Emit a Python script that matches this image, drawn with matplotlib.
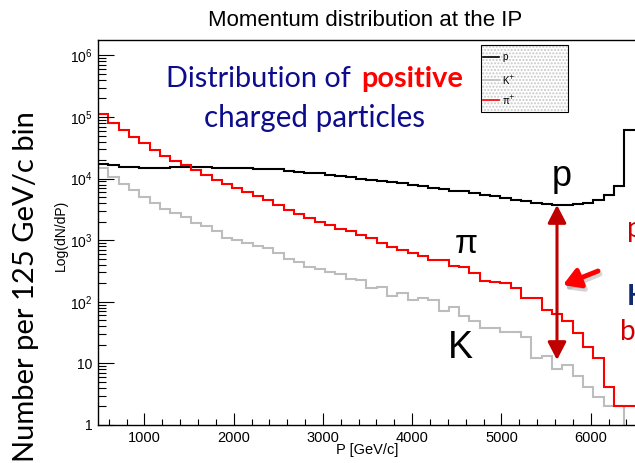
import numpy as np
import matplotlib
matplotlib.use('Agg')
import matplotlib.pyplot as plt
from matplotlib.patches import Rectangle, FancyArrowPatch
from matplotlib.lines import Line2D
from matplotlib.ticker import LogLocator, MultipleLocator, NullFormatter

plt.rcParams['font.family'] = ['Liberation Sans', 'DejaVu Sans']

# ---- data --------------------------------------------------------------
p_start = 480.0          # GeV/c, first bin edge
bin_width = 115.6        # GeV/c
p_edges = p_start + bin_width * np.arange(54)

proton = [17540, 16450, 15670, 15280, 14920, 14920, 15100, 15280, 15390, 15390,
          15280, 15100, 14920, 14820, 14700, 14550, 14550, 14380, 13150, 12850,
          12380, 12380, 11620, 11190, 10500, 10000, 9640, 9280, 8710, 8510,
          7990, 7500, 7060, 6800, 6210, 6210, 5850, 5490, 5150, 4850,
          4560, 4280, 4030, 3880, 3730, 3680, 3820, 4070, 4560, 5490,
          7500, 62600, 62600]

kaon = [14900, 10650, 8300, 6450, 5040, 4030, 3220, 2770, 2380, 1900,
        1680, 1390, 1090, 1020, 900, 814, 755, 626, 500, 439,
        371, 338, 302, 285, 237, 228, 166, 172, 122, 137,
        108, 114, 106, 70, 83, 59, 48, 37, 37, 32,
        32, 27, 12.2, 13.2, 8.05, 9.5, 6.3, 4.2, 2.9, 2.0,
        2.0, 0, 0]

pion = [110000, 80500, 62600, 47600, 38000, 29600, 23700, 19100, 16900, 14000,
        11600, 9600, 8300, 7060, 5990, 5150, 4440, 3680, 3130, 2670,
        2300, 1980, 1790, 1540, 1390, 1230, 1090, 900, 775, 701,
        620, 560, 482, 470, 375, 370, 293, 214, 212, 201,
        167, 115, 117, 74, 64, 48, 31, 18.8, 12.2, 4.2,
        2.0, 2.0, 2.0]

series_names = ['p', 'K$^{+}$', 'π$^{+}$']
series_colors = ['black', '#bdbdbd', '#ff0000']

x_ticks = [1000, 2000, 3000, 4000, 5000, 6000]
y_ticks = [1, 10, 100, 1e3, 1e4, 1e5, 1e6]
y_tick_labels = ['1', '10', r'$\mathregular{10^{2}}$', r'$\mathregular{10^{3}}$',
                 r'$\mathregular{10^{4}}$', r'$\mathregular{10^{5}}$',
                 r'$\mathregular{10^{6}}$']

W, H = 635, 463


def fx(x):
    return x / W


def fy(y):
    return 1 - y / H


fig = plt.figure(figsize=(6.35, 4.63), dpi=100)
ax = fig.add_axes([fx(98), fy(425), 1 - fx(98), (425 - 40) / H])

for vals, c in zip([proton, kaon, pion], series_colors):
    ax.stairs(vals, p_edges, color=c, lw=1.5, baseline=None)

ax.set_yscale('log')
ax.set_xlim(p_start, 6496)
ax.set_ylim(1, 1.78e6)

ax.set_xticks(x_ticks)
ax.xaxis.set_minor_locator(MultipleLocator(200))
ax.set_yticks(y_ticks, labels=y_tick_labels)
ax.yaxis.set_minor_locator(LogLocator(base=10, subs=np.arange(2, 10), numticks=100))
ax.yaxis.set_minor_formatter(NullFormatter())

ax.spines['right'].set_visible(False)
for s in ['left', 'bottom', 'top']:
    ax.spines[s].set_linewidth(1.0)

ax.tick_params(axis='both', which='both', direction='in', top=False, right=False)
ax.tick_params(axis='y', which='major', length=11.5, width=0.8, pad=4, labelsize=10)
ax.tick_params(axis='y', which='minor', length=6, width=0.8)
ax.tick_params(axis='x', which='major', length=8.4, width=0.8, pad=4, labelsize=10.5)
ax.tick_params(axis='x', which='minor', length=4.1, width=0.8)

# ROOT-style titles
fig.text(fx(365), fy(20), 'Momentum distribution at the IP', ha='center', va='center',
         fontsize=16)
fig.text(fx(367), fy(450), 'P [GeV/c]', ha='center', va='center', fontsize=10.5)
fig.text(fx(61), fy(235), 'Log(dN/dP)', ha='center', va='center', rotation=90, fontsize=10)

# legend box
leg_bg = Rectangle((fx(481), fy(112)), (568 - 481) / W, (112 - 45) / H,
                   transform=fig.transFigure, facecolor='white', edgecolor='#c8c8c8',
                   hatch='.....', lw=0)
fig.add_artist(leg_bg)
fig.add_artist(Rectangle((fx(481), fy(112)), (568 - 481) / W, (112 - 45) / H,
                         transform=fig.transFigure, facecolor='none',
                         edgecolor='black', lw=0.8))
for name, c, ly in zip(series_names, series_colors, [57, 80, 100]):
    fig.add_artist(Line2D([fx(483), fx(499)], [fy(ly), fy(ly)],
                          transform=fig.transFigure, color=c, lw=1.2))
    fig.text(fx(502), fy(ly), name, ha='left', va='center', fontsize=7)

# slide overlay text
blue = '#0c0c8c'
fig.text(fx(166), fy(87), 'Distribution of', color=blue, fontsize=20.8,
         family='Lato', ha='left', va='baseline')
fig.text(fx(463), fy(87), 'positive', color='#ff0000', fontsize=20.8, weight='bold',
         family='Lato', ha='right', va='baseline')
fig.text(fx(314), fy(127), 'charged particles', color=blue, fontsize=21.3,
         family='Lato', ha='center', va='baseline')

fig.text(fx(26), fy(287), 'Number per 125 GeV/c bin', rotation=90, fontsize=21,
         family='Lato', ha='center', va='center')

fig.text(fx(562), fy(186), 'p', fontsize=26, ha='center', va='baseline')
fig.text(fx(466), fy(253), 'π', fontsize=24, ha='center', va='baseline')
fig.text(fx(460), fy(358), 'K', fontsize=27, ha='center', va='baseline')

fig.text(fx(627), fy(237), 'p', color='#d00000', fontsize=20, family='Lato',
         ha='left', va='baseline')
fig.text(fx(627), fy(305), 'K', color='#0f2a6e', fontsize=20, weight='bold',
         family='Lato', ha='left', va='baseline')
fig.text(fx(620), fy(340), 'b', color='#d00000', fontsize=20, family='Lato',
         ha='left', va='baseline')

# arrows
fig.add_artist(FancyArrowPatch((fx(557), fy(205)), (fx(557), fy(360)),
                               transform=fig.transFigure,
                               arrowstyle='<|-|>,head_length=1.08,head_width=0.56',
                               mutation_scale=10, color='#c00000', lw=2.2,
                               shrinkA=0, shrinkB=0))
fig.add_artist(FancyArrowPatch((fx(600), fy(274)), (fx(565), fy(289)),
                               transform=fig.transFigure,
                               arrowstyle='-|>,head_length=1.0,head_width=0.6',
                               mutation_scale=10, color='#aaaaaa', alpha=0.5, lw=3.5,
                               shrinkA=0, shrinkB=0))
fig.add_artist(FancyArrowPatch((fx(598), fy(271)), (fx(563), fy(285)),
                               transform=fig.transFigure,
                               arrowstyle='-|>,head_length=1.0,head_width=0.6',
                               mutation_scale=10, color='#ff0000', lw=3.5,
                               shrinkA=0, shrinkB=0))

fig.savefig('out.png', dpi=100)
